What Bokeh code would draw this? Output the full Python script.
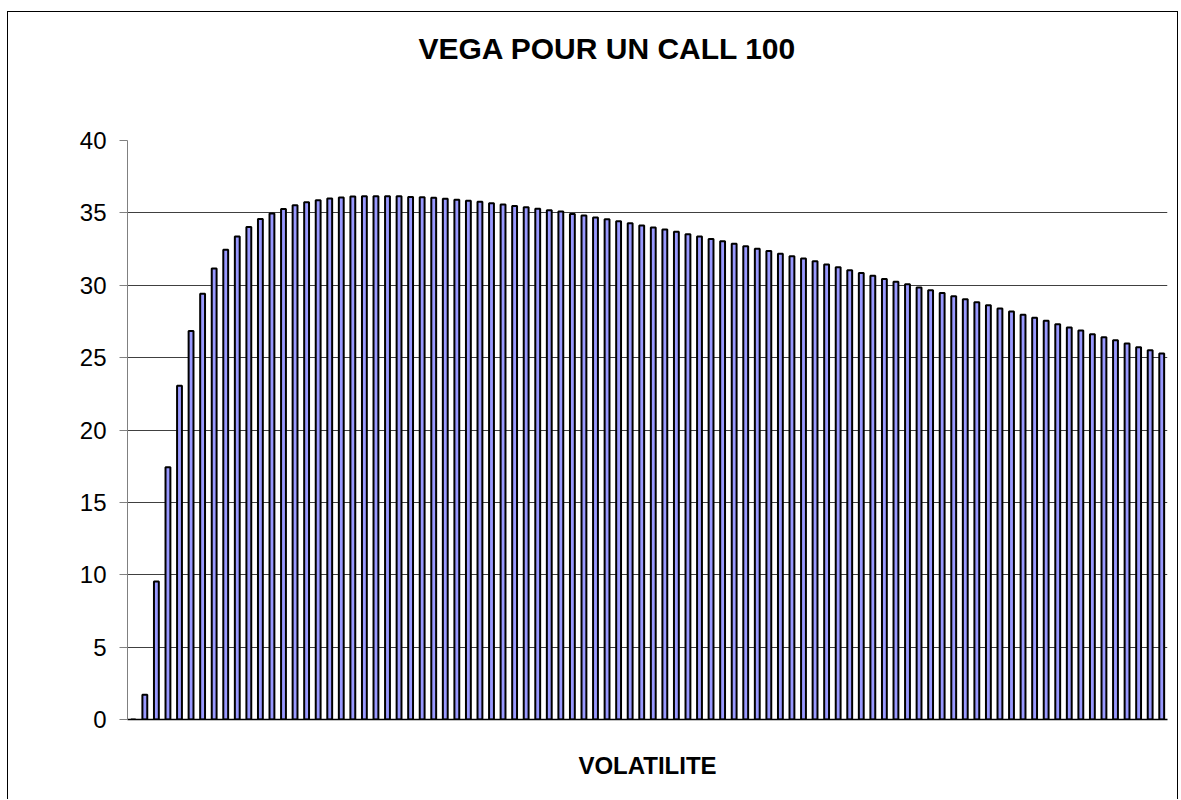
from bokeh.plotting import figure
from bokeh.models import Range1d, FixedTicker, Title
from bokeh.embed import file_html
from bokeh.resources import INLINE

# Data
volatilite = list(range(0, 90))
vega = [0, 1.71, 9.54, 17.43, 23.06, 26.84, 29.41, 31.15, 32.46, 33.36, 34.03, 34.57, 34.95, 35.26, 35.52,
        35.74, 35.88, 35.99, 36.06, 36.13, 36.15, 36.15, 36.15, 36.15, 36.10, 36.08, 36.04, 35.97, 35.90, 35.83,
        35.76, 35.67, 35.58, 35.48, 35.39, 35.28, 35.18, 35.09, 34.93, 34.82, 34.68, 34.56, 34.42, 34.29, 34.12,
        33.99, 33.85, 33.69, 33.53, 33.36, 33.20, 33.04, 32.86, 32.70, 32.53, 32.37, 32.17, 32.00, 31.84, 31.66,
        31.44, 31.24, 31.04, 30.85, 30.65, 30.44, 30.25, 30.07, 29.84, 29.65, 29.47, 29.24, 29.03, 28.82, 28.62,
        28.40, 28.19, 27.96, 27.75, 27.55, 27.31, 27.08, 26.88, 26.62, 26.41, 26.20, 25.97, 25.72, 25.51, 25.28]
y_ticks = [0, 5, 10, 15, 20, 25, 30, 35, 40]
titre = "VEGA POUR UN CALL 100"
titre_x = "VOLATILITE"

FONT = "Liberation Sans"

p = figure(width=1171, height=788, output_backend="svg", toolbar_location=None,
           x_range=Range1d(volatilite[0] - 0.5, volatilite[-1] + 0.5),
           y_range=Range1d(0, 40),
           min_border_left=119, min_border_right=12, min_border_top=128, min_border_bottom=81)
p.styles = {"border-top": "1px solid black", "border-left": "1px solid black",
            "border-right": "1px solid black", "margin-top": "11px", "margin-left": "7px"}
p.outline_line_color = None
p.background_fill_color = "white"
p.border_fill_color = "white"

p.vbar(x=volatilite, top=vega, width=0.42, bottom=0,
       fill_color="#9999FF", line_color="black", line_width=2)

xax = p.xaxis[0]
xax.ticker = FixedTicker(ticks=[])
xax.axis_line_color = "black"
xax.axis_line_width = 1.5
xax.major_tick_line_color = None
xax.minor_tick_line_color = None
xax.major_label_text_font_size = "0px"
xax.axis_label = titre_x
xax.axis_label_text_font = FONT
xax.axis_label_text_font_size = "24px"
xax.axis_label_text_font_style = "bold"
xax.axis_label_text_color = "black"
xax.axis_label_standoff = 32
p.xgrid.visible = False

yax = p.yaxis[0]
yax.ticker = FixedTicker(ticks=y_ticks)
yax.axis_line_color = "#808080"
yax.major_tick_line_color = "#808080"
yax.major_tick_out = 8
yax.major_tick_in = 0
yax.minor_tick_line_color = None
yax.major_label_standoff = 13
yax.major_label_text_font = FONT
yax.major_label_text_font_size = "24px"
yax.major_label_text_color = "black"

p.ygrid.ticker = FixedTicker(ticks=y_ticks)
p.ygrid.grid_line_color = "black"
p.ygrid.grid_line_width = 1
p.ygrid.grid_line_alpha = 0.75

p.add_layout(Title(text=titre + "\n \n ", align="left", offset=291, standoff=8,
                   text_font=FONT, text_font_size="30px", text_font_style="bold",
                   text_line_height=1.09, text_color="black"), "above")

open("out.html", "w").write(file_html(p, INLINE))
